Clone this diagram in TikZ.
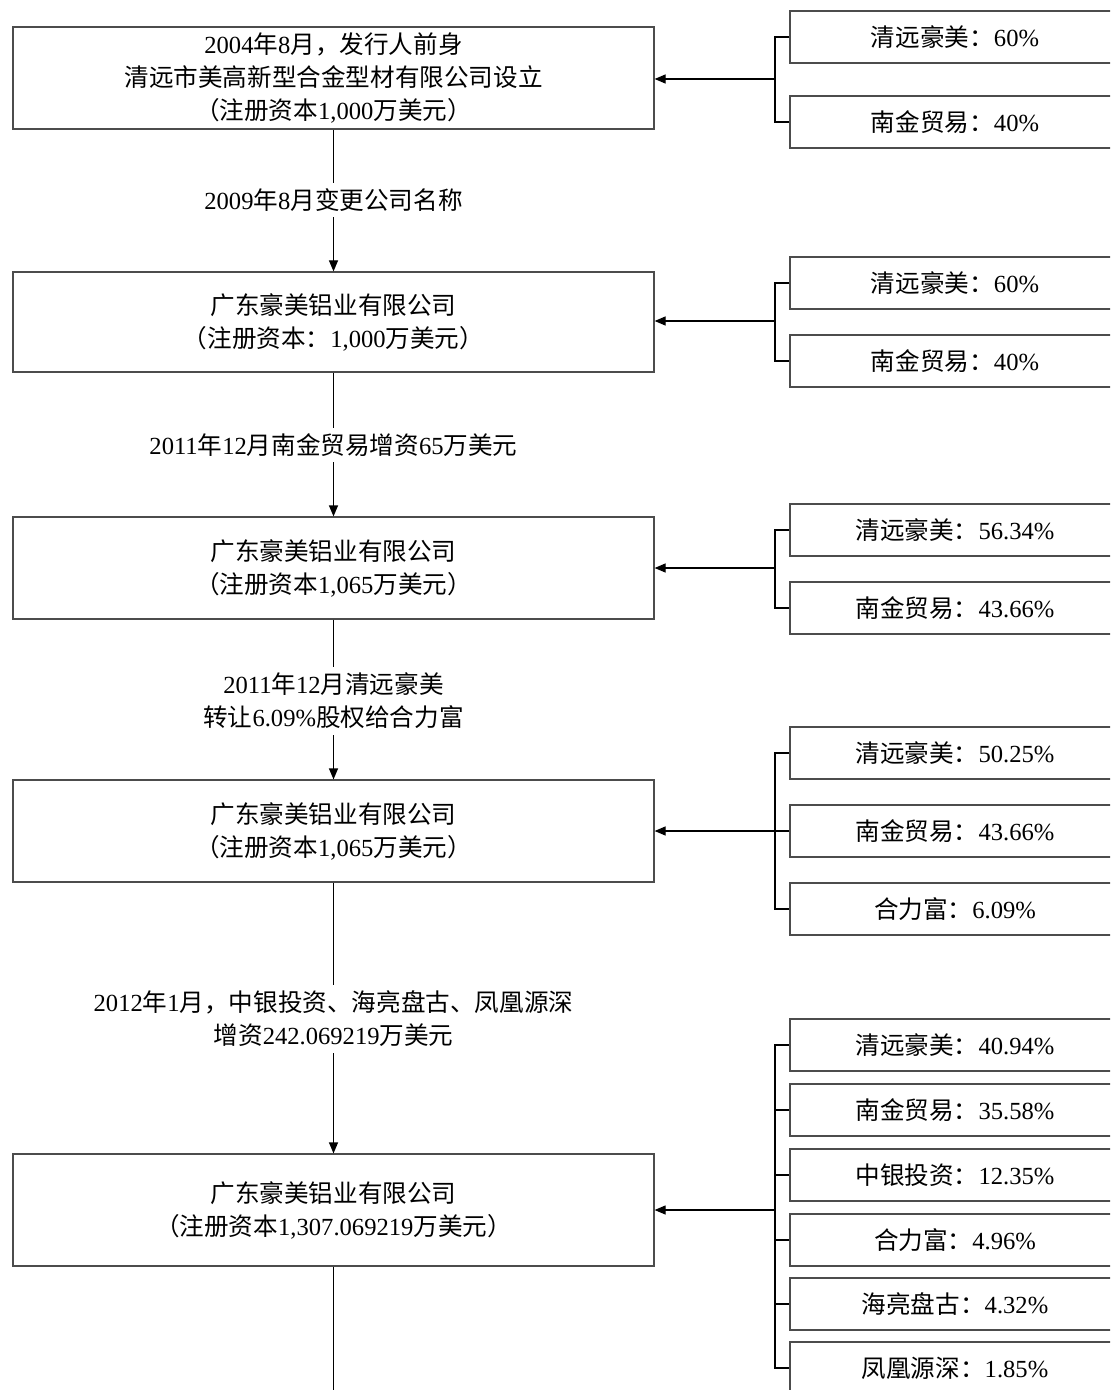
\documentclass[tikz,border=0pt]{standalone}
\usepackage{fontspec}
\setmainfont{Liberation Serif}
\newfontfamily\cjkf{Noto Sans CJK SC}
\usetikzlibrary{arrows.meta}
\XeTeXinterchartokenstate=1
\newXeTeXintercharclass\CJKcls
\newcount\mycnt
\mycnt="3000 \loop \XeTeXcharclass\mycnt=\CJKcls \ifnum\mycnt<"303F \advance\mycnt 1 \repeat
\mycnt="4E00 \loop \XeTeXcharclass\mycnt=\CJKcls \ifnum\mycnt<"9FFF \advance\mycnt 1 \repeat
\mycnt="FF00 \loop \XeTeXcharclass\mycnt=\CJKcls \ifnum\mycnt<"FFEF \advance\mycnt 1 \repeat
\XeTeXinterchartoks 0 \CJKcls = {\cjkf}
\XeTeXinterchartoks 4095 \CJKcls = {\cjkf}
\XeTeXinterchartoks \CJKcls 0 = {\rmfamily}
\XeTeXinterchartoks \CJKcls 4095 = {\rmfamily}
\tikzset{
  mainbox/.style={draw=black!70, line width=0.6pt, minimum width=320.5pt, minimum height=51pt, align=center, inner sep=0pt},
  sharebox/.style={draw=black!70, line width=0.6pt, minimum width=175pt, minimum height=26pt, inner sep=0pt},
  steplabel/.style={fill=white, align=center, inner sep=3pt},
  conn/.style={line width=0.6pt, draw=black},
  arr/.style={conn, -{Triangle[length=5.5pt,width=4.5pt]}}
}
\newcommand{\shtext}[1]{\hspace*{-10pt}#1}
\begin{document}
\begin{tikzpicture}[x=0.5pt,y=-0.5pt,font=\fontsize{12.3}{16.5}\selectfont]
\useasboundingbox[fill=white] (0,0) rectangle (1110,1390);
\clip (0,0) rectangle (1110,1390);
% main boxes
\node[mainbox] (b1) at (333.5,78) {2004年8月，发行人前身\\清远市美高新型合金型材有限公司设立\\（注册资本1,000万美元）};
\node[mainbox, minimum height=50pt] (b2) at (333.5,322) {广东豪美铝业有限公司\\（注册资本：1,000万美元）};
\node[mainbox] (b3) at (333.5,568) {广东豪美铝业有限公司\\（注册资本1,065万美元）};
\node[mainbox] (b4) at (333.5,831) {广东豪美铝业有限公司\\（注册资本1,065万美元）};
\node[mainbox, minimum height=56pt] (b5) at (333.5,1210) {广东豪美铝业有限公司\\（注册资本1,307.069219万美元）};
\coordinate (bend) at (333.5,1400);
% vertical connectors
\draw[arr] (b1.south) -- (b2.north);
\draw[arr] (b2.south) -- (b3.north);
\draw[arr] (b3.south) -- (b4.north);
\draw[arr] (b4.south) -- (b5.north);
\draw[conn] (b5.south) -- (bend);
\node[steplabel] (l1) at (333.5,200) {2009年8月变更公司名称};
\node[steplabel] (l2) at (333.5,445) {2011年12月南金贸易增资65万美元};
\node[steplabel] (l3) at (333.5,701) {2011年12月清远豪美\\转让6.09\%股权给合力富};
\node[steplabel] (l4) at (333.5,1019) {2012年1月，中银投资、海亮盘古、凤凰源深\\增资242.069219万美元};
% group 1
\node[sharebox] (s11) at (965,37) {\shtext{清远豪美：60\%}};
\node[sharebox] (s12) at (965,122) {\shtext{南金贸易：40\%}};
\coordinate (j1) at (775,79);
\draw[conn] (s11.west) -| (j1) |- (s12.west);
\draw[arr] (j1) -- (b1.east |- j1);
% group 2
\node[sharebox] (s21) at (965,283) {\shtext{清远豪美：60\%}};
\node[sharebox] (s22) at (965,361) {\shtext{南金贸易：40\%}};
\coordinate (j2) at (775,321);
\draw[conn] (s21.west) -| (j2) |- (s22.west);
\draw[arr] (j2) -- (b2.east |- j2);
% group 3
\node[sharebox] (s31) at (965,530) {\shtext{清远豪美：56.34\%}};
\node[sharebox] (s32) at (965,608) {\shtext{南金贸易：43.66\%}};
\coordinate (j3) at (775,568);
\draw[conn] (s31.west) -| (j3) |- (s32.west);
\draw[arr] (j3) -- (b3.east |- j3);
% group 4
\node[sharebox] (s41) at (965,753) {\shtext{清远豪美：50.25\%}};
\node[sharebox] (s42) at (965,831) {\shtext{南金贸易：43.66\%}};
\node[sharebox] (s43) at (965,909) {\shtext{合力富：6.09\%}};
\coordinate (j4) at (775,831);
\draw[conn] (s41.west) -| (j4) |- (s43.west);
\draw[conn] (s42.west) -- (j4);
\draw[arr] (j4) -- (b4.east |- j4);
% group 5
\node[sharebox] (s51) at (965,1045) {\shtext{清远豪美：40.94\%}};
\node[sharebox] (s52) at (965,1110) {\shtext{南金贸易：35.58\%}};
\node[sharebox] (s53) at (965,1175) {\shtext{中银投资：12.35\%}};
\node[sharebox] (s54) at (965,1240) {\shtext{合力富：4.96\%}};
\node[sharebox] (s55) at (965,1304) {\shtext{海亮盘古：4.32\%}};
\node[sharebox] (s56) at (965,1368) {\shtext{凤凰源深：1.85\%}};
\coordinate (j5) at (775,1210);
\draw[conn] (s51.west) -| (j5) |- (s56.west);
\draw[conn] (s52.west) -- (s52.west -| j5);
\draw[conn] (s53.west) -- (s53.west -| j5);
\draw[conn] (s54.west) -- (s54.west -| j5);
\draw[conn] (s55.west) -- (s55.west -| j5);
\draw[arr] (j5) -- (b5.east |- j5);
\end{tikzpicture}
\end{document}
